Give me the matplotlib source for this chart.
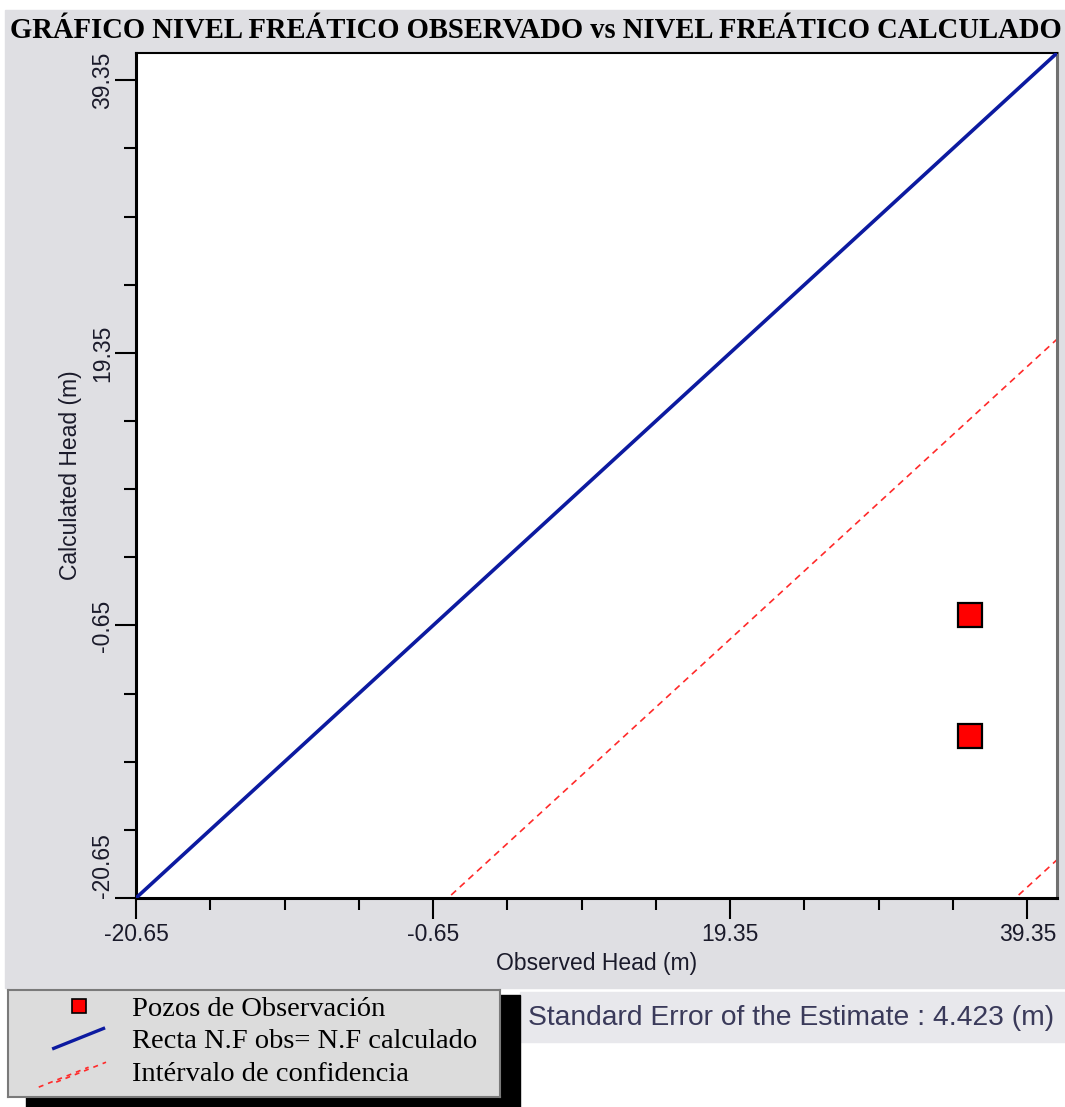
import matplotlib.pyplot as plt
from matplotlib.patches import Rectangle
from matplotlib.lines import Line2D
from matplotlib.legend_handler import HandlerBase
from matplotlib.ticker import FixedLocator

# data
obs_head = [35.5, 35.5]
calc_head = [0.1, -8.8]
line_x = [-20.65, 41.35]
line_y = [-20.65, 41.35]
ci_upper = [-41.65, 20.35]
ci_lower = [-79.85, -17.85]
tick_vals = [-20.65, -0.65, 19.35, 39.35]
tick_labels = ["-20.65", "-0.65", "19.35", "39.35"]
legend_labels = ["Pozos de Observación", "Recta N.F obs= N.F calculado",
                 "Intérvalo de confidencia"]

W, H = 1065, 1107
SANS = ["Liberation Sans", "DejaVu Sans"]
SERIF = ["Liberation Serif", "DejaVu Serif"]
GRAY = "#dfdfe3"


def fx(px):
    return px / W


def fy(py):
    return 1 - py / H


class DiagHandler(HandlerBase):
    # draws the legend line as a diagonal (one or two strokes)
    def __init__(self, double=False):
        super().__init__()
        self.double = double

    def create_artists(self, legend, orig_handle, xdescent, ydescent,
                       width, height, fontsize, trans):
        x0, y0 = -xdescent, -ydescent
        offs = [(-0.3, -0.3), (0.05, -0.05)] if self.double else [(0, 0)]
        arts = []
        for dx, dy in offs:
            ln = Line2D([x0 + dx * width, x0 + (1.0 + dx) * width],
                        [y0 + dy * height, y0 + (1.0 + dy) * height])
            ln.update_from(orig_handle)
            ln.set_transform(trans)
            arts.append(ln)
        return arts


fig = plt.figure(figsize=(W / 100, H / 100), dpi=100)
fig.patch.set_facecolor("white")

# panel backgrounds
fig.patches.append(Rectangle((fx(5), fy(988)), fx(1060), 978 / H,
                             transform=fig.transFigure, color=GRAY, zorder=-10))
fig.patches.append(Rectangle((fx(520), fy(1042)), fx(545), 50 / H,
                             transform=fig.transFigure, color="#e8e8ec", zorder=-10))

fig.text(fx(536), fy(31), "GRÁFICO NIVEL FREÁTICO OBSERVADO vs NIVEL FREÁTICO CALCULADO",
         ha="center", va="center", family=SERIF, fontweight="bold",
         fontsize=20.6, color="black")

ax = fig.add_axes([fx(136), fy(898), (1057 - 136) / W, (898 - 53) / H])
ax.set_facecolor("white")

ax.plot(line_x, line_y, color="#0c1aa0", lw=2.6, solid_capstyle="butt", zorder=3)
ax.plot(line_x, ci_upper, color="#ff2a2a", lw=1.2, ls=(0, (4, 3)), zorder=2)
ax.plot(line_x, ci_lower, color="#ff2a2a", lw=1.2, ls=(0, (4, 3)), zorder=2)
ax.plot(obs_head, calc_head, ls="none", marker="s", markersize=17.5,
        markerfacecolor="#ff0000", markeredgecolor="black", markeredgewidth=1.6,
        zorder=4)

ax.set_xlim(-20.65, 41.35)
ax.set_ylim(-20.65, 41.35)
ax.xaxis.set_major_locator(FixedLocator(tick_vals))
ax.yaxis.set_major_locator(FixedLocator(tick_vals))
ax.set_xticklabels(tick_labels)
ax.set_yticklabels(tick_labels)
minor = [v + 5 * k for v in tick_vals[:3] for k in (1, 2, 3)]
ax.xaxis.set_minor_locator(FixedLocator(minor))
ax.yaxis.set_minor_locator(FixedLocator(minor))

ax.tick_params(which="major", direction="out", length=15, width=1.5,
               color="black", labelsize=16.5, labelcolor="#1a1a2a")
ax.tick_params(which="minor", direction="out", length=8.5, width=1.5, color="black")
ax.tick_params(axis="x", pad=3)
ax.tick_params(axis="y", pad=1, labelrotation=90)
for lab in ax.get_xticklabels() + ax.get_yticklabels():
    lab.set_family(SANS)
for lab in ax.get_yticklabels():
    lab.set_va("center")
ax.get_yticklabels()[0].set_va("bottom")

ax.set_xlabel("Observed Head (m)", family=SANS, fontsize=16.5, color="#1a1a2a", labelpad=4)
ax.set_ylabel("Calculated Head (m)", family=SANS, fontsize=16.5, color="#1a1a2a", labelpad=6)

for side in ("left", "bottom"):
    ax.spines[side].set_linewidth(2.2)
    ax.spines[side].set_color("black")
ax.spines["top"].set_linewidth(1.5)
ax.spines["top"].set_color("black")
ax.spines["right"].set_linewidth(2.2)
ax.spines["right"].set_color("#707070")

# legend box with black shadow
fig.patches.append(Rectangle((fx(26), fy(1107)), fx(494), 112 / H,
                             transform=fig.transFigure, color="black", zorder=-5))
lax = fig.add_axes([fx(8), fy(1097), fx(492), 107 / H])
lax.set_facecolor("#dcdcdc")
lax.set_xticks([])
lax.set_yticks([])
for sp in lax.spines.values():
    sp.set_color("#7a7a7a")
    sp.set_linewidth(1.5)

h_pts = Line2D([], [], ls="none", marker="s", markersize=10,
               markerfacecolor="#ff0000", markeredgecolor="black", markeredgewidth=1.2)
h_line = Line2D([], [], color="#0c1aa0", lw=2.4)
h_ci = Line2D([], [], color="#ff2a2a", lw=1.2, ls=(0, (3, 3)))
lax.legend([h_pts, h_line, h_ci], legend_labels,
           handler_map={h_line: DiagHandler(), h_ci: DiagHandler(double=True)},
           loc="upper left", frameon=False, prop={"family": SERIF, "size": 20.5},
           handlelength=1.75, handletextpad=1.0, labelspacing=0.24,
           borderaxespad=0.2, borderpad=0.0, bbox_to_anchor=(40 / 492, 1.0))

fig.text(fx(528), fy(1018), "Standard Error of the Estimate : 4.423 (m)",
         ha="left", va="center", family=SANS, fontsize=20.3, color="#3a3a5a")

plt.savefig("out.png", dpi=100)
